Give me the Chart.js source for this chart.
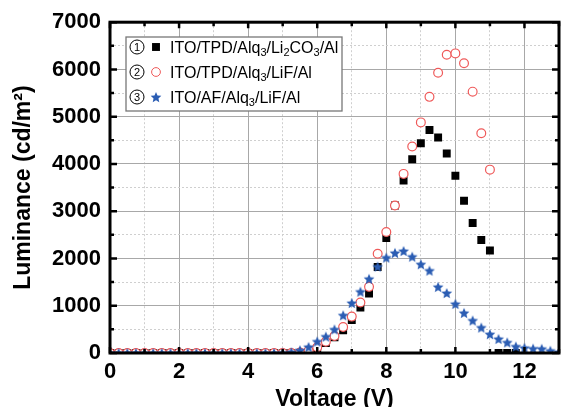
<!DOCTYPE html>
<html>
<head>
<meta charset="utf-8">
<script src="https://cdn.jsdelivr.net/npm/chart.js@4.4.1/dist/chart.umd.min.js"></script>
<style>
  html, body { margin: 0; padding: 0; background: #fff; }
</style>
</head>
<body>
<canvas id="chart" width="565" height="407"></canvas>
<script>
// data (V, cd/m2)
const voltages = [0, 0.25, 0.5, 0.75, 1, 1.25, 1.5, 1.75, 2, 2.25, 2.5, 2.75, 3, 3.25, 3.5, 3.75,
  4, 4.25, 4.5, 4.75, 5, 5.25, 5.5, 5.75, 6, 6.25, 6.5, 6.75, 7, 7.25, 7.5, 7.75, 8, 8.25, 8.5, 8.75,
  9, 9.25, 9.5, 9.75, 10, 10.25, 10.5, 10.75, 11, 11.25, 11.5, 11.75, 12, 12.25, 12.5, 12.75, 13];

const lumLi2CO3 = [0, 0, 0, 0, 0, 0, 0, 0, 0, 0, 0, 0, 0, 0, 0, 0, 0, 0, 0, 0, 0, 0,
  0, 20, 100, 210, 330, 480, 700, 960, 1260, 1820, 2430, 3120, 3650, 4100, 4440, 4720, 4560, 4220,
  3750, 3220, 2750, 2390, 2170, 0, 0, 0, null, null, null, null, null];

const lumLiF = [0, 0, 0, 0, 0, 0, 0, 0, 0, 0, 0, 0, 0, 0, 0, 0, 0, 0, 0, 0, 0, 0,
  10, 50, 120, 240, 360, 550, 770, 1070, 1400, 2100, 2560, 3120, 3790, 4370, 4880, 5420, 5930, 6310,
  6340, 6130, 5530, 4650, 3880, null, null, null, null, null, null, null, null];

const lumAF = [0, 0, 0, 0, 0, 0, 0, 0, 0, 0, 0, 0, 0, 0, 0, 0, 0, 0, 0, 0, 5, 20,
  60, 130, 245, 350, 500, 800, 1060, 1300, 1570, 1830, 2020, 2120, 2160, 2040, 1880, 1745, 1400, 1270,
  1040, 850, 690, 540, 400, 300, 225, 140, 110, 95, 90, 50, 20];

const seriesNames = ['ITO/TPD/Alq_3/Li_2CO_3/Al', 'ITO/TPD/Alq_3/LiF/Al', 'ITO/AF/Alq_3/LiF/Al'];
const xTickLabels = [0, 2, 4, 6, 8, 10, 12];
const yTickLabels = [0, 1000, 2000, 3000, 4000, 5000, 6000, 7000];

const FONT = '"Liberation Sans", Arial, sans-serif';
const RED = '#ef5a5a';
const BLUE = '#2b5db3';

function makeStar(r, color) {
  const c = document.createElement('canvas');
  const s = Math.ceil(r * 2 + 2);
  c.width = c.height = s;
  const g = c.getContext('2d');
  g.fillStyle = color;
  g.beginPath();
  for (let i = 0; i < 10; i++) {
    const rad = i % 2 ? r * 0.46 : r;
    const ang = -Math.PI / 2 + i * Math.PI / 5;
    g.lineTo(s / 2 + rad * Math.cos(ang), s / 2 + 0.6 + rad * Math.sin(ang));
  }
  g.closePath();
  g.fill();
  return c;
}
const starImg = makeStar(5.6, BLUE);

function points(arr) {
  return voltages.map((v, i) => ({ x: v, y: arr[i] })).filter(p => p.y !== null);
}

// thick frame + inward ticks, drawn over the markers like the original
const framePlugin = {
  id: 'frame',
  afterDatasetsDraw(chart) {
    const { ctx, chartArea: a, scales: { x, y } } = chart;
    ctx.save();
    ctx.strokeStyle = '#000';
    ctx.lineWidth = 2.5;
    ctx.beginPath();
    x.ticks.forEach(t => {
      const px = x.getPixelForValue(t.value);
      const len = t.value % 2 === 0 ? 6 : 4;
      ctx.moveTo(px, a.bottom); ctx.lineTo(px, a.bottom - len);
      ctx.moveTo(px, a.top); ctx.lineTo(px, a.top + len);
    });
    y.ticks.forEach(t => {
      const py = y.getPixelForValue(t.value);
      const len = t.value % 1000 === 0 ? 7 : 4;
      ctx.moveTo(a.left, py); ctx.lineTo(a.left + len, py);
      ctx.moveTo(a.right, py); ctx.lineTo(a.right - len, py);
    });
    ctx.stroke();
    ctx.lineWidth = 3;
    ctx.strokeRect(a.left, a.top, a.right - a.left, a.bottom - a.top);
    ctx.restore();
  },
  afterDraw(chart) {
    const ctx = chart.ctx;
    const box = { x: 126, y: 37, w: 216, h: 74 };
    ctx.save();
    ctx.fillStyle = '#fff';
    ctx.fillRect(box.x, box.y, box.w, box.h);
    ctx.strokeStyle = '#777';
    ctx.lineWidth = 1.3;
    ctx.strokeRect(box.x, box.y, box.w, box.h);
    chart.data.datasets.forEach((ds, i) => {
      const rowY = 47 + i * 25;
      // circled number
      ctx.strokeStyle = '#000';
      ctx.lineWidth = 1;
      ctx.beginPath();
      ctx.arc(137, rowY, 7, 0, Math.PI * 2);
      ctx.stroke();
      ctx.fillStyle = '#000';
      ctx.font = '11px ' + FONT;
      ctx.textAlign = 'center';
      ctx.textBaseline = 'middle';
      ctx.fillText(String(i + 1), 137, rowY + 0.5);
      // marker
      ctx.fillStyle = ds.backgroundColor;
      ctx.strokeStyle = ds.borderColor;
      Chart.helpers.drawPoint(ctx, {
        pointStyle: ds.pointStyle, radius: ds.pointRadius, rotation: 0, borderWidth: ds.borderWidth
      }, 156, rowY);
      // label with subscripts
      let tx = 170;
      ctx.textAlign = 'left';
      ctx.textBaseline = 'alphabetic';
      ctx.fillStyle = '#000';
      seriesNames[i].split(/(_\d)/).forEach(part => {
        if (!part) return;
        if (part[0] === '_') {
          ctx.font = '11px ' + FONT;
          ctx.fillText(part.slice(1), tx, rowY + 9);
        } else {
          ctx.font = '16px ' + FONT;
          ctx.fillText(part, tx, rowY + 6);
        }
        tx += ctx.measureText(part[0] === '_' ? part.slice(1) : part).width;
      });
    });
    ctx.restore();
  }
};

new Chart(document.getElementById('chart'), {
  type: 'scatter',
  data: {
    datasets: [
      {
        label: seriesNames[0], data: points(lumLi2CO3),
        pointStyle: 'rect', pointRadius: 5.6, borderWidth: 0,
        backgroundColor: '#000', borderColor: '#000', order: 3, clip: 0
      },
      {
        label: seriesNames[1], data: points(lumLiF),
        pointStyle: 'circle', pointRadius: 4.4, borderWidth: 1.2,
        backgroundColor: '#fff', borderColor: RED, order: 2, clip: 0
      },
      {
        label: seriesNames[2], data: points(lumAF),
        pointStyle: starImg, pointRadius: 6, borderWidth: 0,
        backgroundColor: BLUE, borderColor: BLUE, order: 1, clip: 0
      }
    ]
  },
  options: {
    responsive: false,
    animation: false,
    devicePixelRatio: 1,
    events: [],
    layout: { padding: { top: 19, right: 3, left: 0, bottom: 0 } },
    plugins: { legend: { display: false }, tooltip: { enabled: false } },
    scales: {
      x: {
        type: 'linear', min: 0, max: 13,
        afterFit: s => { s.height = 54; },
        ticks: {
          stepSize: 1, autoSkip: false, maxRotation: 0, padding: 6, color: '#000',
          font: { family: FONT, size: 22, weight: 'bold' },
          callback: v => xTickLabels.includes(v) ? String(v) : ''
        },
        grid: {
          drawTicks: false, lineWidth: 1,
          color: c => c.tick && c.tick.value % 2 === 0 ? '#a8a8a8' : '#cfcfcf'
        },
        border: { display: false, dash: c => c.tick && c.tick.value % 2 === 0 ? [] : [2, 2] },
        title: {
          display: true, text: 'Voltage (V)', color: '#000',
          font: { family: FONT, size: 23, weight: 'bold' },
          padding: { top: 0, bottom: -6 }
        }
      },
      y: {
        min: 0, max: 7000,
        afterFit: s => { s.width = 110; },
        ticks: {
          stepSize: 500, autoSkip: false, padding: 9, color: '#000',
          font: { family: FONT, size: 22, weight: 'bold' },
          callback: v => yTickLabels.includes(v) ? String(v) : ''
        },
        grid: {
          drawTicks: false, lineWidth: 1,
          color: c => c.tick && c.tick.value % 1000 === 0 ? '#a8a8a8' : '#cfcfcf'
        },
        border: { display: false, dash: c => c.tick && c.tick.value % 1000 === 0 ? [] : [2, 2] },
        title: {
          display: true, text: 'Luminance (cd/m\u00B2)', color: '#000',
          font: { family: FONT, size: 23, weight: 'bold' },
          padding: { top: 10, bottom: 0 }
        }
      }
    }
  },
  plugins: [framePlugin]
});
</script>
</body>
</html>
